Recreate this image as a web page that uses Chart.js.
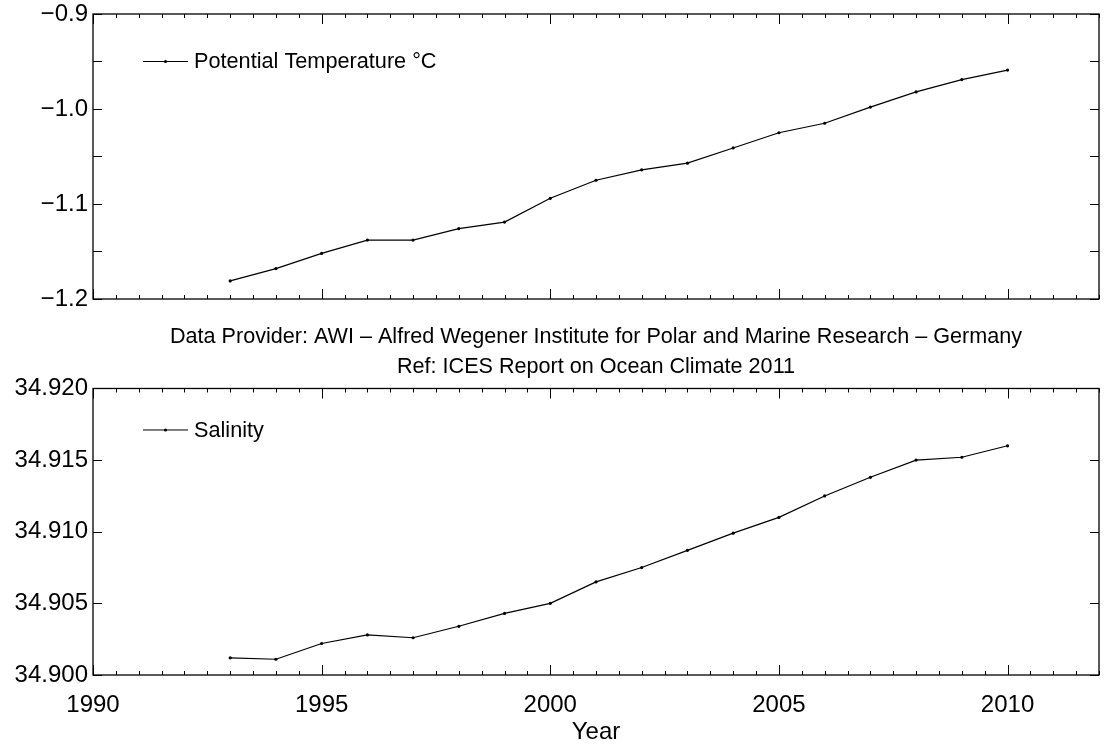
<!DOCTYPE html>
<html>
<head>
<meta charset="utf-8">
<script src="https://cdn.jsdelivr.net/npm/chart.js@4.4.1/dist/chart.umd.min.js"></script>
<style>
  body { margin: 0; background: #fff; }
  #wrap { position: relative; width: 1111px; height: 744px; }
  canvas { position: absolute; left: 0; }
</style>
</head>
<body>
<div id="wrap">
  <canvas id="temp" width="1111" height="310" style="top:0"></canvas>
  <canvas id="sal" width="1111" height="434" style="top:310px"></canvas>
</div>
<script>
// yearly means, 1993-2010
const years = [1993, 1994, 1995, 1996, 1997, 1998, 1999, 2000, 2001,
               2002, 2003, 2004, 2005, 2006, 2007, 2008, 2009, 2010];
const temperature = [-1.181, -1.168, -1.152, -1.138, -1.138, -1.126, -1.119, -1.094, -1.075,
                     -1.064, -1.057, -1.041, -1.025, -1.015, -0.998, -0.982, -0.969, -0.959];
const salinity = [34.9012, 34.9011, 34.9022, 34.9028, 34.9026, 34.9034, 34.9043, 34.9050, 34.9065,
                  34.9075, 34.9087, 34.9099, 34.9110, 34.9125, 34.9138, 34.9150, 34.9152, 34.9160];

const yearTicks = [1990, 1995, 2000, 2005, 2010];
const tempTicks = [-1.2, -1.1, -1.0, -0.9];
const salTicks = [34.900, 34.905, 34.910, 34.915, 34.920];

const FONT = '"Liberation Sans", Arial, Helvetica, sans-serif';
Chart.defaults.font.family = FONT;
Chart.defaults.color = '#000';

// box around the plot with inward tick marks on all four sides
const framePlugin = {
  id: 'frame',
  afterDatasetsDraw(chart, args, opts) {
    const { ctx, chartArea: a, scales: { x, y } } = chart;
    ctx.save();
    ctx.strokeStyle = '#000';
    ctx.lineWidth = 1;
    ctx.beginPath();
    const nx = Math.round((x.max - x.min) / 0.5);
    for (let i = 0; i <= nx; i++) {
      const v = x.min + i * 0.5;
      const px = Math.round(x.getPixelForValue(v)) + 0.5;
      const len = v % 5 === 0 ? 10 : 4;
      ctx.moveTo(px, a.bottom); ctx.lineTo(px, a.bottom - len);
      ctx.moveTo(px, a.top); ctx.lineTo(px, a.top + len);
    }
    const ny = Math.round((y.max - y.min) / opts.yStep);
    for (let i = 0; i <= ny; i++) {
      const py = Math.round(y.getPixelForValue(y.min + i * opts.yStep)) + 0.5;
      ctx.moveTo(a.left, py); ctx.lineTo(a.left + 9, py);
      ctx.moveTo(a.right, py); ctx.lineTo(a.right - 9, py);
    }
    ctx.stroke();
    ctx.lineWidth = 1.3;
    ctx.strokeRect(a.left, a.top, a.right - a.left, a.bottom - a.top);
    ctx.restore();
  }
};

// small legend inside the plot: line with a dot, then the series name
const inlineLegend = {
  id: 'inlineLegend',
  afterDraw(chart, args, opts) {
    const { ctx, chartArea: a } = chart;
    const ds = chart.data.datasets[0];
    const x0 = a.left + opts.x, y0 = a.top + opts.y + 0.5;
    ctx.save();
    ctx.strokeStyle = '#000';
    ctx.fillStyle = '#000';
    ctx.lineWidth = 1;
    ctx.beginPath(); ctx.moveTo(x0, y0); ctx.lineTo(x0 + 45, y0); ctx.stroke();
    ctx.beginPath(); ctx.arc(x0 + 22.5, y0, 1.6, 0, Math.PI * 2); ctx.fill();
    ctx.font = '21.7px ' + FONT;
    ctx.textBaseline = 'middle';
    ctx.fillText(ds.label, x0 + 51, y0 + 1);
    ctx.restore();
  }
};

function series(label, values) {
  return {
    label: label,
    data: years.map((yr, i) => ({ x: yr, y: values[i] })),
    borderColor: '#000',
    backgroundColor: '#000',
    borderWidth: 1.2,
    pointRadius: 1.6,
    pointHoverRadius: 1.6,
    pointBorderWidth: 0,
    tension: 0
  };
}

function xScale(showLabels) {
  return {
    type: 'linear',
    min: 1990,
    max: 2012,
    grid: { display: false, drawTicks: false },
    border: { display: false },
    afterBuildTicks: s => { s.ticks = yearTicks.map(v => ({ value: v })); },
    ticks: {
      display: showLabels,
      padding: 16,
      font: { size: 24 },
      callback: v => String(v)
    }
  };
}

function yScale(min, max, ticks, digits) {
  return {
    min: min,
    max: max,
    grid: { display: false, drawTicks: false },
    border: { display: false },
    afterBuildTicks: s => { s.ticks = ticks.map(v => ({ value: v })); },
    // fixed width, and no extra room for the end labels
    afterFit: s => { s.width = 93; s.paddingTop = 0; s.paddingBottom = 0; },
    ticks: {
      padding: 5,
      font: { size: 24 },
      callback: v => (v < 0 ? '\u2212' : '') + Math.abs(v).toFixed(digits)
    }
  };
}

new Chart(document.getElementById('temp'), {
  type: 'line',
  data: { datasets: [series('Potential Temperature \u00B0C', temperature)] },
  options: {
    responsive: false,
    animation: false,
    layout: { padding: { top: 14, right: 12, bottom: 11, left: 0 } },
    scales: {
      x: xScale(false),
      y: yScale(-1.2, -0.9, tempTicks, 1)
    },
    plugins: {
      legend: { display: false },
      tooltip: { enabled: false },
      frame: { yStep: 0.05 },
      inlineLegend: { x: 50, y: 47 }
    }
  },
  plugins: [framePlugin, inlineLegend]
});

const salX = xScale(true);
salX.title = { display: true, text: 'Year', font: { size: 24, lineHeight: 1 }, padding: { top: 0, bottom: 0 } };
salX.afterFit = s => { s.height = 69; s.paddingLeft = 0; s.paddingRight = 0; };

new Chart(document.getElementById('sal'), {
  type: 'line',
  data: { datasets: [series('Salinity', salinity)] },
  options: {
    responsive: false,
    animation: false,
    layout: { padding: { top: 0, right: 12, bottom: 0, left: 0 } },
    scales: {
      x: salX,
      y: yScale(34.900, 34.920, salTicks, 3)
    },
    plugins: {
      legend: { display: false },
      tooltip: { enabled: false },
      title: {
        display: true,
        fullSize: false,
        text: ['Data Provider: AWI \u2013 Alfred Wegener Institute for Polar and Marine Research \u2013 Germany',
               'Ref: ICES Report on Ocean Climate 2011'],
        font: { size: 21.6, weight: 'normal', lineHeight: 1.4 },
        padding: { top: 12, bottom: 6 },
        color: '#000'
      },
      frame: { yStep: 0.005 },
      inlineLegend: { x: 50, y: 41 }
    }
  },
  plugins: [framePlugin, inlineLegend]
});
</script>
</body>
</html>
